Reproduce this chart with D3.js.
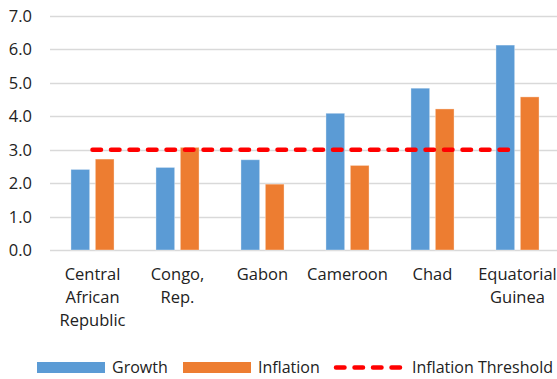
<!DOCTYPE html>
<html>
<head>
<meta charset="utf-8">
<script src="https://cdn.jsdelivr.net/npm/d3@7"></script>
<style>
  body { margin: 0; background: #fff; }
  svg text { font-family: "Open Sans", sans-serif; fill: #222222; }
</style>
</head>
<body>
<div id="chart"></div>
<script>

var categories = ["Central African Republic", "Congo, Rep.", "Gabon", "Cameroon", "Chad", "Equatorial Guinea"]
var categoryLines = [["Central", "African", "Republic"], ["Congo,", "Rep."], ["Gabon"], ["Cameroon"], ["Chad"], ["Equatorial", "Guinea"]]
var growth = [2.41, 2.47, 2.70, 4.09, 4.84, 6.13]
var inflation = [2.72, 3.07, 1.97, 2.53, 4.22, 4.58]
var threshold = [3.0, 3.0, 3.0, 3.0, 3.0, 3.0]
var yTicks = [0, 1, 2, 3, 4, 5, 6, 7]

var growthColor = '#5B9BD5'
var inflationColor = '#ED7D31'
var thresholdColor = '#FF0000'

var width = 557, height = 379
var plot = {left: 50, right: 560, top: 16, bottom: 250}

var svg = d3.select("#chart").append("svg")
  .attr("width", width)
  .attr("height", height)

var xScale = d3.scaleBand()
  .domain(categories)
  .range([plot.left, plot.right])
  .padding(0)

var yScale = d3.scaleLinear()
  .domain([0, 7])
  .range([plot.bottom, plot.top])

var barW = xScale.bandwidth() * 0.22
var barGap = xScale.bandwidth() * 0.067

// gridlines
svg.append("g")
  .selectAll("line")
  .data(yTicks)
  .enter().append("line")
    .attr("x1", plot.left)
    .attr("x2", width)
    .attr("y1", function(d) { return Math.round(yScale(d)) + 0.5 })
    .attr("y2", function(d) { return Math.round(yScale(d)) + 0.5 })
    .style("stroke", "#D9D9D9")
    .style("stroke-width", 1.3)

// y tick labels
svg.append("g")
  .selectAll("text")
  .data(yTicks)
  .enter().append("text")
    .attr("x", 32)
    .attr("y", function(d) { return yScale(d) })
    .attr("dy", "0.36em")
    .style("text-anchor", "end")
    .style("font-size", "16.5px")
    .text(function(d) { return d.toFixed(1) })

// bars
var series = [
  {name: "Growth", values: growth, color: growthColor, offset: -barGap / 2 - barW},
  {name: "Inflation", values: inflation, color: inflationColor, offset: barGap / 2}
]

series.forEach(function(s) {
  svg.append("g")
    .selectAll("rect")
    .data(s.values)
    .enter().append("rect")
      .attr("x", function(d, i) { return xScale(categories[i]) + xScale.bandwidth() / 2 + s.offset })
      .attr("y", function(d) { return yScale(d) })
      .attr("width", barW)
      .attr("height", function(d) { return yScale(0) - yScale(d) })
      .style("fill", s.color)
      .style("stroke", "rgba(255,255,255,0.35)")
      .style("stroke-width", 1)
})

// threshold line
var line = d3.line()
  .x(function(d, i) { return xScale(categories[i]) + xScale.bandwidth() / 2 })
  .y(function(d) { return yScale(d) })

svg.append("path")
  .datum(threshold)
  .attr("d", line)
  .style("fill", "none")
  .style("stroke", thresholdColor)
  .style("stroke-width", 4.5)
  .style("stroke-dasharray", "8.5,10")
  .style("stroke-linecap", "round")

// category labels
var xLabels = svg.append("g")
  .selectAll("text")
  .data(categoryLines)
  .enter().append("text")
    .attr("x", function(d, i) { return xScale(categories[i]) + xScale.bandwidth() / 2 })
    .attr("y", 280)
    .style("text-anchor", "middle")
    .style("font-size", "16.5px")

xLabels.selectAll("tspan")
  .data(function(d) { return d })
  .enter().append("tspan")
    .attr("x", function() { return d3.select(this.parentNode).attr("x") })
    .attr("dy", function(d, j) { return j === 0 ? 0 : 23 })
    .text(function(d) { return d })

// legend
var legend = svg.append("g")

legend.append("rect").attr("x", 37).attr("y", 362).attr("width", 68).attr("height", 11).style("fill", growthColor)
legend.append("text").attr("x", 112).attr("y", 373).style("font-size", "16px").text("Growth")

legend.append("rect").attr("x", 183).attr("y", 362).attr("width", 68).attr("height", 11).style("fill", inflationColor)
legend.append("text").attr("x", 258).attr("y", 373).style("font-size", "16px").text("Inflation")

legend.append("line")
  .attr("x1", 336).attr("x2", 402).attr("y1", 367.5).attr("y2", 367.5)
  .style("stroke", thresholdColor)
  .style("stroke-width", 4.5)
  .style("stroke-dasharray", "8.5,10")
  .style("stroke-linecap", "round")
legend.append("text").attr("x", 412).attr("y", 373).style("font-size", "16px").text("Inflation Threshold")

</script>
</body>
</html>
